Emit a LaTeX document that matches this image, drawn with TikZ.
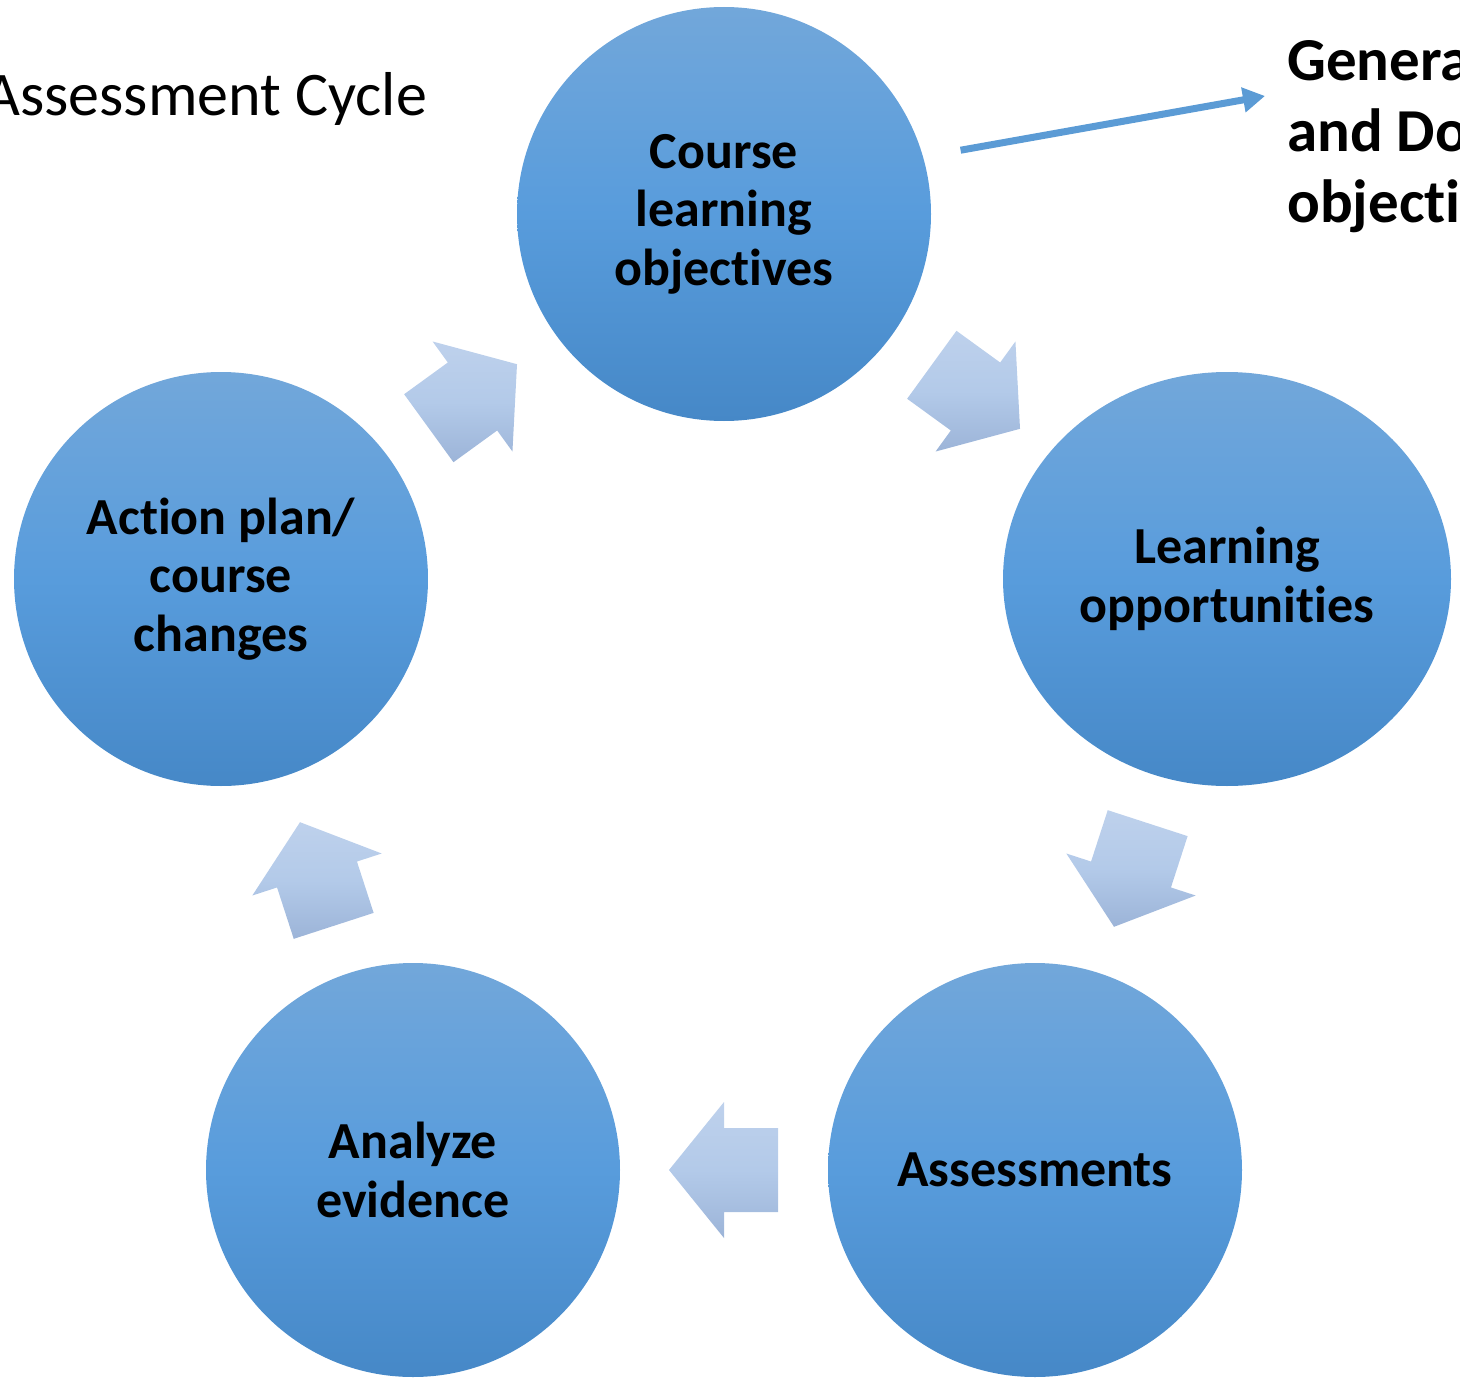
\documentclass[tikz,border=0pt]{standalone}
\usepackage{fontspec}
\setmainfont{Carlito}[Ligatures=NoCommon]
\usetikzlibrary{calc,shapes.geometric,arrows.meta}

\definecolor{stagetop}{HTML}{72A7DA}
\definecolor{stagemid}{HTML}{589CDC}
\definecolor{stagebot}{HTML}{4688C7}
\definecolor{arrowtop}{HTML}{BED1EC}
\definecolor{arrowmid}{HTML}{B3CAE9}
\definecolor{arrowbot}{HTML}{9CB4D8}
\definecolor{goalblue}{HTML}{5B9BD5}

\begin{document}
\begin{tikzpicture}
        [x=1pt,y=-1pt,
         stage/.style={circle,minimum size=414pt,inner sep=0pt,align=center,
           top color=stagetop,bottom color=stagebot,middle color=stagemid,
           font=\fontsize{52}{58.5}\selectfont\bfseries},
         cyclearrow/.style={top color=arrowtop,bottom color=arrowbot,middle color=arrowmid},
         goalarrow/.style={goalblue,line width=7pt,-{Triangle[width=24pt,length=22pt]}}]
        \useasboundingbox (0,0) rectangle (1460,1383);
        \clip (0,0) rectangle (1460,1383);

        \node (title) [anchor=base east,inner sep=0pt,font=\fontsize{62}{74}\selectfont] at (427,116) {Assessment Cycle};

        \node (clo) [stage] at (724,214) {Course\\learning\\objectives};
        \node (lop) [stage,ellipse,minimum width=448pt,minimum height=414pt] at (1227,579) {Learning\\opportunities};
        \node (asm) [stage] at (1035,1170) {Assessments};
        \node (ane) [stage] at (413,1170) {Analyze\\evidence};
        \node (apc) [stage] at (221,579) {Action plan/\\course\\changes};

        \node (gen) [anchor=north west,inner sep=0pt,align=left,
          font=\fontsize{61}{71}\selectfont\bfseries] at (1287,37) {General\\and Domain\\objectives};
        \coordinate (gtip) at (1265,96);
        \draw[goalarrow,shorten <=38pt] (clo.16) -- (gtip);

        % block arrows half way between the stages
        \foreach \from/\to in {clo/lop, lop/asm, asm/ane, ane/apc, apc/clo}
        {
            \coordinate (m) at ($(\from)!0.5!(\to)$);
            \coordinate (t) at ($(m)!-54pt!(\to)$);
            \shade[cyclearrow] ($(t)!42pt!90:(\to)$) -- ($(m)!42pt!90:(\to)$)
                -- ($(m)!68pt!90:(\to)$) -- ($(m)!55pt!(\to)$)
                -- ($(m)!68pt!-90:(\to)$) -- ($(m)!42pt!-90:(\to)$)
                -- ($(t)!42pt!-90:(\to)$) -- cycle;
        }

      \end{tikzpicture}
\end{document}
